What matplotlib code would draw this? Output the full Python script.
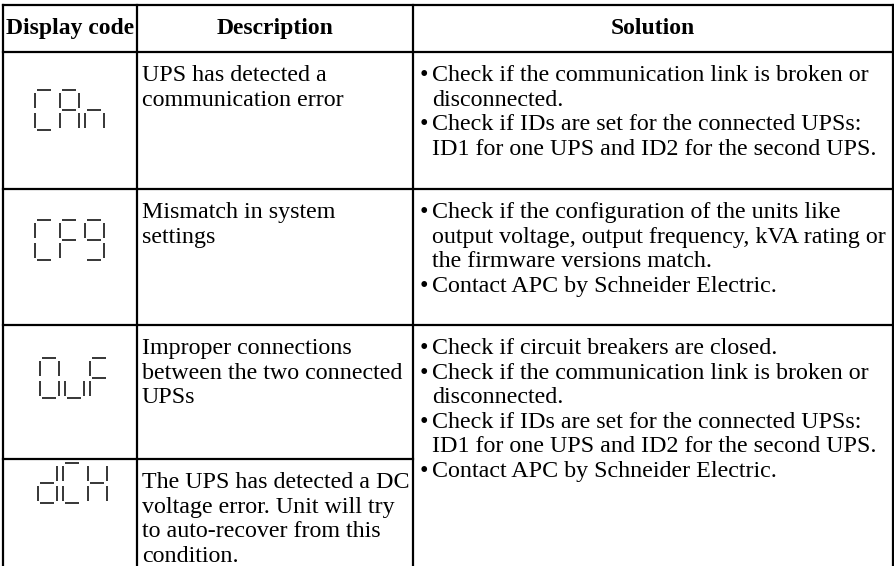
import matplotlib
matplotlib.use("Agg")
import matplotlib.pyplot as plt

# ---------------- data ----------------
headers = ["Display code", "Description", "Solution"]
codes = ["CAn", "CF9", "OuF", "dCH"]
descriptions = [
    ["UPS has detected a", "communication error"],
    ["Mismatch in system", "settings"],
    ["Improper connections", "between the two connected", "UPSs"],
    ["The UPS has detected a DC", "voltage error. Unit will try",
     "to auto-recover from this", "condition."],
]
# (bullet flag, text); solution of rows 3 and 4 is a merged cell
solutions = [
    [(True, "Check if the communication link is broken or"),
     (False, "disconnected."),
     (True, "Check if IDs are set for the connected UPSs:"),
     (False, "ID1 for one UPS and ID2 for the second UPS.")],
    [(True, "Check if the configuration of the units like"),
     (False, "output voltage, output frequency, kVA rating or"),
     (False, "the firmware versions match."),
     (True, "Contact APC by Schneider Electric.")],
    [(True, "Check if circuit breakers are closed."),
     (True, "Check if the communication link is broken or"),
     (False, "disconnected."),
     (True, "Check if IDs are set for the connected UPSs:"),
     (False, "ID1 for one UPS and ID2 for the second UPS."),
     (True, "Contact APC by Schneider Electric.")],
]
# seven-segment patterns
segments = {
    "C": "afed", "A": "abcefg", "n": "ceg", "F": "afge", "9": "abcdfg",
    "O": "abcdef", "u": "cde", "d": "bcdeg", "H": "bcefg",
}

# ---------------- layout ----------------
W, H = 895, 566
fig = plt.figure(figsize=(W / 100, H / 100), dpi=100)
ax = fig.add_axes([0, 0, 1, 1])
ax.set_xlim(0, W)
ax.set_ylim(H, 0)
ax.axis("off")

FONT = "Liberation Serif"
FS = 17.3
LW = 1.6
x_left, x_c1, x_c2, x_right = 3, 137, 413, 893
y_top, y_head = 5, 52
row_tops = [52, 189, 325, 459]
y_bottom = H + 5
LINE = 24.6
OFF = 22
BASE = 7  # baseline offset below visual line centre

# border / grid lines
ax.plot([x_left, x_right], [y_top, y_top], color="black", lw=LW)
ax.plot([x_left, x_right], [y_head, y_head], color="black", lw=LW)
for x in (x_left, x_c1, x_c2, x_right):
    ax.plot([x, x], [y_top, y_bottom], color="black", lw=LW)
ax.plot([x_left, x_right], [row_tops[1], row_tops[1]], color="black", lw=LW)
ax.plot([x_left, x_right], [row_tops[2], row_tops[2]], color="black", lw=LW)
ax.plot([x_left, x_c2], [row_tops[3], row_tops[3]], color="black", lw=LW)

# headers
for txt, (a, b) in zip(headers, [(x_left, x_c1), (x_c1, x_c2), (x_c2, x_right)]):
    ax.text((a + b) / 2, 27 + BASE, txt, ha="center", va="baseline", family=FONT,
            fontsize=17, fontweight="bold")

# descriptions
for top, lines in zip(row_tops, descriptions):
    for i, ln in enumerate(lines):
        ax.text(142, top + OFF + i * LINE + BASE, ln, ha="left", va="baseline",
                family=FONT, fontsize=FS)

# solutions
for top, lines in zip(row_tops[:3], solutions):
    for i, (bullet, ln) in enumerate(lines):
        y = top + OFF + i * LINE + BASE
        if bullet:
            ax.text(420, y, "\u2022", ha="left", va="baseline", family=FONT, fontsize=FS)
        ax.text(432, y, ln, ha="left", va="baseline", family=FONT, fontsize=FS)

# seven-segment display codes
glyph_pos = [(35, 90), (35, 220), (40, 358), (38, 463)]
dw, dh, pitch, gap = 19, 40, 25, 2.5


def seg_coords(s, x0, y0):
    m = y0 + dh / 2
    return {
        "a": ([x0 + gap, x0 + dw - gap], [y0, y0]),
        "b": ([x0 + dw, x0 + dw], [y0 + gap, m - gap]),
        "c": ([x0 + dw, x0 + dw], [m + gap, y0 + dh - gap]),
        "d": ([x0 + gap, x0 + dw - gap], [y0 + dh, y0 + dh]),
        "e": ([x0, x0], [m + gap, y0 + dh - gap]),
        "f": ([x0, x0], [y0 + gap, m - gap]),
        "g": ([x0 + gap, x0 + dw - gap], [m, m]),
    }[s]


for code, (gx, gy) in zip(codes, glyph_pos):
    for k, ch in enumerate(code):
        x0 = gx + k * pitch
        for s in segments[ch]:
            xs, ys = seg_coords(s, x0, gy)
            ax.plot(xs, ys, color="black", lw=1.1, solid_capstyle="butt")

fig.savefig("out.png", dpi=100)
